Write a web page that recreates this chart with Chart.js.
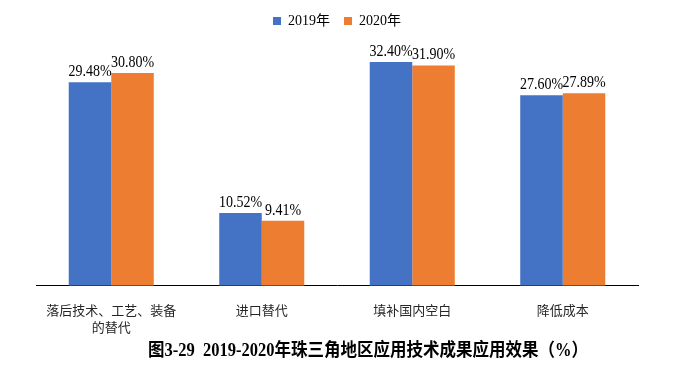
<!DOCTYPE html>
<html>
<head>
<meta charset="utf-8">
<script src="https://cdn.jsdelivr.net/npm/chart.js@4.4.1/dist/chart.umd.min.js"></script>
<style>
  html, body { margin: 0; padding: 0; background: #ffffff; }
  #wrap { width: 674px; height: 376px; position: relative; }
</style>
</head>
<body>
<div id="wrap"><canvas id="chart"></canvas></div>
<script>
  // categories and series
  const categories = [['落后技术、工艺、装备', '的替代'], '进口替代', '填补国内空白', '降低成本'];
  const seriesNames = ['2019年', '2020年'];
  const values2019 = [29.48, 10.52, 32.40, 27.60];
  const values2020 = [30.80, 9.41, 31.90, 27.89];
  const captionText = '图3-29  2019-2020年珠三角地区应用技术成果应用效果（%）';

  const colors = { blue: '#4472C4', orange: '#ED7D31', text: '#000000', tick: '#262626', axis: '#000000' };
  const fontFamily = '"Liberation Serif", "Times New Roman", "Noto Sans CJK SC", serif';

  // text in the reference is slightly taller than wide
  function stretchedText(ctx, text, x, y, sy) {
    ctx.save();
    ctx.translate(x, y);
    ctx.scale(1, sy);
    ctx.fillText(text, 0, 0);
    ctx.restore();
  }

  // value labels above each bar
  const valueLabels = {
    id: 'valueLabels',
    afterDatasetsDraw(chart) {
      const ctx = chart.ctx;
      ctx.save();
      ctx.font = '14px ' + fontFamily;
      ctx.fillStyle = colors.text;
      ctx.textAlign = 'center';
      ctx.textBaseline = 'alphabetic';
      chart.data.datasets.forEach((ds, i) => {
        chart.getDatasetMeta(i).data.forEach((bar, j) => {
          stretchedText(ctx, ds.data[j].toFixed(2) + '%', bar.x, bar.y - 6, 1.2);
        });
      });
      ctx.restore();
    }
  };

  // figure caption under the axis
  const caption = {
    id: 'caption',
    afterDraw(chart) {
      const ctx = chart.ctx;
      ctx.save();
      ctx.font = 'bold 16.5px ' + fontFamily;
      ctx.fillStyle = colors.text;
      ctx.textAlign = 'center';
      ctx.textBaseline = 'middle';
      stretchedText(ctx, captionText, 368, 351, 1.1);
      ctx.restore();
    }
  };

  new Chart(document.getElementById('chart'), {
    type: 'bar',
    data: {
      labels: categories,
      datasets: [
        { label: seriesNames[0], data: values2019, backgroundColor: colors.blue },
        { label: seriesNames[1], data: values2020, backgroundColor: colors.orange }
      ]
    },
    options: {
      responsive: true,
      maintainAspectRatio: false,
      animation: false,
      datasets: { bar: { categoryPercentage: 0.565, barPercentage: 1.0 } },
      layout: { padding: { top: 0, left: 36, right: 36, bottom: 21.5 } },
      plugins: {
        legend: {
          position: 'top',
          labels: {
            boxWidth: 8,
            boxHeight: 8,
            padding: 14,
            color: colors.text,
            font: { size: 14, family: fontFamily }
          }
        },
        tooltip: { enabled: false }
      },
      scales: {
        x: {
          grid: { display: false, drawTicks: false },
          border: { display: true, color: colors.axis, width: 1 },
          ticks: {
            color: colors.tick,
            padding: 17.5,
            maxRotation: 0,
            autoSkip: false,
            font: { size: 13, family: fontFamily, lineHeight: 1.3 }
          }
        },
        y: {
          display: false,
          min: 0,
          max: 35.88
        }
      }
    },
    plugins: [valueLabels, caption]
  });
</script>
</body>
</html>
